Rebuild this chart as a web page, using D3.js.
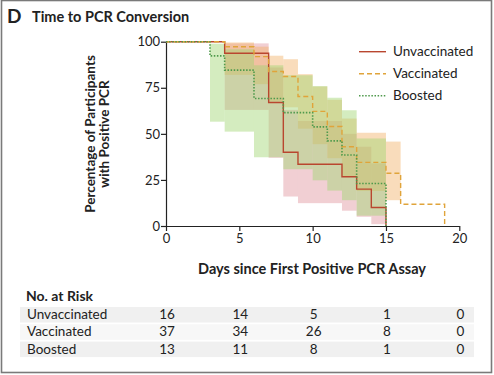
<!DOCTYPE html>
<html lang="en">
<head>
    <meta charset="UTF-8">
    <script src="https://cdnjs.cloudflare.com/ajax/libs/d3/7.8.5/d3.min.js"></script>
    <title>Time to PCR Conversion</title>
    <style>
        body { margin: 0; background: #fff; }
        svg text { font-family: Lato, "Open Sans", sans-serif; fill: #222; }
    </style>
</head>
<body>
<div id="plot"></div>
<script>
    // data
    var groups = ["Unvaccinated", "Vaccinated", "Boosted"];
    var riskDays = [0, 5, 10, 15, 20];
    var riskUnv = [16, 14, 5, 1, 0];
    var riskVac = [37, 34, 26, 8, 0];
    var riskBoo = [13, 11, 8, 1, 0];
    var xTicks = [0, 5, 10, 15, 20];
    var yTicks = [0, 25, 50, 75, 100];

    // step curves: time, estimate, lower / upper band for the step that starts there
    var unvTime = [0, 4, 7, 8, 9, 12, 13, 14, 15];
    var unvSurv = [100, 93.75, 67, 40, 33.5, 26.7, 20, 10, 0];
    var unvLow  = [100, 63, 37, 16, 12.4, 8.3, 5, 1, null];
    var unvHigh = [100, 99.1, 86, 63, 57, 50, 43, 34, null];

    var vacTime = [0, 4, 6, 7, 8, 9, 10, 11, 12, 13, 15, 16, 19];
    var vacSurv = [100, 97.3, 91.9, 83.8, 81.1, 70.3, 62.2, 54, 43, 34.5, 28.6, 11.8, 0];
    var vacLow  = [100, 82, 77, 67.5, 64.4, 52.8, 44.4, 36.8, 26.7, 19, 14, null, null];
    var vacHigh = [100, 99.6, 97.3, 92.4, 90.5, 82.4, 75.7, 68.5, 58.3, 50.6, 45.8, null, null];

    var booTime = [0, 3, 4, 6, 8, 10, 11, 12, 13, 15];
    var booSurv = [100, 92.3, 84.6, 69.2, 61.5, 53.8, 46.2, 38.5, 23.1, 0];
    var booLow  = [100, 56.6, 51.2, 37.3, 30.8, 24.8, 19.2, 14, 5.6, null];
    var booHigh = [100, 98.9, 95.9, 87.2, 81.8, 75.9, 69.6, 62.8, 47.5, null];

    var W = 494, H = 375;
    var svg = d3.select("#plot").append("svg")
        .attr("width", W).attr("height", H);

    // frame
    svg.append("rect")
        .attr("x", 1.5).attr("y", 0.5).attr("width", W - 4).attr("height", H - 3)
        .attr("fill", "none").attr("stroke", "#7a7a7a").attr("stroke-width", 1.6);

    svg.append("text").attr("x", 7).attr("y", 23)
        .style("font-size", "19px").style("font-weight", "bold").text("D");
    svg.append("text").attr("x", 32).attr("y", 22)
        .style("font-size", "14.5px").style("font-weight", "bold").text("Time to PCR Conversion");

    var x = d3.scaleLinear().domain([0, 20]).range([166, 459.3]);
    var y = d3.scaleLinear().domain([0, 100]).range([226, 41.7]);

    var series = [
        { name: groups[0], t: unvTime, s: unvSurv, lo: unvLow, hi: unvHigh,
          line: "#b9462f", band: "rgba(222,140,150,0.42)", dash: null, w: 1.4 },
        { name: groups[1], t: vacTime, s: vacSurv, lo: vacLow, hi: vacHigh,
          line: "#e0a43a", band: "rgba(240,172,92,0.42)", dash: "5,3", w: 1.4 },
        { name: groups[2], t: booTime, s: booSurv, lo: booLow, hi: booHigh,
          line: "#4f9a4c", band: "rgba(160,212,112,0.45)", dash: "1.5,1.6", w: 1.6 }
    ];

    // (1) bands____________________________________
    series.forEach(function (sr) {
        var rects = [];
        for (var i = 0; i < sr.t.length - 1; i++) {
            if (sr.lo[i] == null) continue;
            rects.push({ t0: sr.t[i], t1: sr.t[i + 1], lo: sr.lo[i], hi: sr.hi[i] });
        }
        svg.append("g").selectAll("rect")
            .data(rects).enter().append("rect")
            .attr("x", d => x(d.t0))
            .attr("width", d => x(d.t1) - x(d.t0))
            .attr("y", d => y(d.hi))
            .attr("height", d => y(d.lo) - y(d.hi))
            .attr("fill", sr.band);
    });

    // (2) axes____________________________________
    var yAxis = svg.append("g")
        .attr("transform", "translate(166,0)")
        .call(d3.axisLeft(y).tickValues(yTicks).tickSize(5).tickSizeOuter(0));
    var xAxis = svg.append("g")
        .attr("transform", "translate(0,226)")
        .call(d3.axisBottom(x).tickValues(xTicks).tickSize(5).tickSizeOuter(0));
    [xAxis, yAxis].forEach(function (a) {
        a.select(".domain").attr("stroke", "#222").attr("stroke-width", 1.2);
        a.selectAll(".tick line").attr("stroke", "#222").attr("stroke-width", 1.2);
        a.selectAll("text").style("font-size", "13px")
            .style("font-family", "Lato, 'Open Sans', sans-serif").attr("fill", "#333");
    });
    yAxis.selectAll("text").attr("x", -6);
    xAxis.selectAll("text").attr("y", 8);

    // (3) step lines____________________________________
    var line = d3.line()
        .x(d => x(d[0])).y(d => y(d[1]))
        .curve(d3.curveStepAfter);
    series.forEach(function (sr) {
        var pts = sr.t.map((t, i) => [t, sr.s[i]]);
        svg.append("path")
            .datum(pts)
            .attr("d", line)
            .attr("fill", "none")
            .attr("stroke", sr.line)
            .attr("stroke-width", sr.w)
            .attr("stroke-dasharray", sr.dash);
    });

    // axis titles
    svg.append("text")
        .attr("transform", "translate(95,134) rotate(-90)")
        .attr("text-anchor", "middle")
        .style("font-size", "13.5px").style("font-weight", "bold")
        .text("Percentage of Participants");
    svg.append("text")
        .attr("transform", "translate(109,134) rotate(-90)")
        .attr("text-anchor", "middle")
        .style("font-size", "13.5px").style("font-weight", "bold")
        .text("with Positive PCR");
    svg.append("text")
        .attr("x", 312).attr("y", 274)
        .attr("text-anchor", "middle")
        .style("font-size", "14.5px").style("font-weight", "bold")
        .text("Days since First Positive PCR Assay");

    // legend
    var leg = svg.append("g");
    series.forEach(function (sr, i) {
        var ly = 51.7 + i * 22;
        leg.append("line")
            .attr("x1", 359).attr("x2", 386).attr("y1", ly).attr("y2", ly)
            .attr("stroke", sr.line).attr("stroke-width", sr.w)
            .attr("stroke-dasharray", sr.dash);
        leg.append("text")
            .attr("x", 393).attr("y", ly + 4.5)
            .style("font-size", "13.5px").attr("fill", "#333")
            .text(sr.name);
    });

    // (4) number at risk____________________________________
    svg.append("text").attr("x", 26).attr("y", 301)
        .style("font-size", "14px").style("font-weight", "bold").text("No. at Risk");
    var riskRows = [riskUnv, riskVac, riskBoo];
    riskRows.forEach(function (row, i) {
        var ry = 307 + i * 17.3;
        svg.append("rect")
            .attr("x", 20).attr("y", ry).attr("width", 454).attr("height", 15.5)
            .attr("fill", i === 1 ? "#f7f7f7" : "#f0f0f0");
        svg.append("text")
            .attr("x", 27).attr("y", ry + 12)
            .style("font-size", "13.5px").attr("fill", "#333")
            .text(groups[i]);
        svg.append("g").selectAll("text")
            .data(row).enter().append("text")
            .attr("x", (d, j) => x(riskDays[j]) + 1)
            .attr("y", ry + 12)
            .attr("text-anchor", "middle")
            .style("font-size", "13.5px").attr("fill", "#333")
            .text(d => d);
    });
</script>
</body>
</html>
